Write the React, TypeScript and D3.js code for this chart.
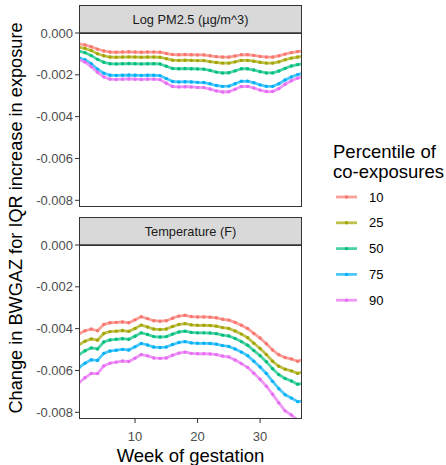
import React from "react";
import * as d3 from "d3";

const weeks = [1, 2, 3, 4, 5, 6, 7, 8, 9, 10, 11, 12, 13, 14, 15, 16, 17, 18, 19, 20, 21, 22, 23, 24, 25, 26, 27, 28, 29, 30, 31, 32, 33, 34, 35, 36, 37];
const percentiles = ["10", "25", "50", "75", "90"];
const colors = ["#F8766D", "#A3A500", "#00BF7D", "#00B0F6", "#E76BF3"];
const yTicks = [0, -0.002, -0.004, -0.006, -0.008];
const xTicks = [10, 20, 30];
const panelTitles = ["Log PM2.5 (\u00b5g/m^3)", "Temperature (F)"];

// Log PM2.5 panel, one array per percentile
const pm10 = [-0.00052, -0.00057, -0.00066, -0.00077, -0.00086, -0.00091, -0.00092, -0.00091, -0.0009, -0.00091, -0.00092, -0.00091, -0.00091, -0.00092, -0.00098, -0.00103, -0.00104, -0.00103, -0.00104, -0.00105, -0.00105, -0.00109, -0.00113, -0.00115, -0.00115, -0.0011, -0.00104, -0.00104, -0.00107, -0.00112, -0.00115, -0.00115, -0.00109, -0.00101, -0.00094, -0.00089, -0.00085];
const pm25 = [-0.00068, -0.00074, -0.00084, -0.00099, -0.00109, -0.00115, -0.00116, -0.00115, -0.00114, -0.00115, -0.00116, -0.00115, -0.00115, -0.00116, -0.00123, -0.0013, -0.00131, -0.0013, -0.00131, -0.00132, -0.00132, -0.00137, -0.00141, -0.00144, -0.00144, -0.00138, -0.00131, -0.00131, -0.00135, -0.0014, -0.00144, -0.00144, -0.00138, -0.00128, -0.0012, -0.00115, -0.0011];
const pm50 = [-0.00087, -0.00094, -0.00108, -0.00126, -0.0014, -0.00147, -0.00148, -0.00147, -0.00146, -0.00147, -0.00148, -0.00147, -0.00147, -0.00148, -0.00159, -0.0017, -0.00171, -0.0017, -0.00171, -0.00172, -0.00173, -0.00179, -0.00187, -0.00191, -0.0019, -0.00181, -0.00171, -0.00171, -0.00177, -0.00185, -0.00191, -0.00191, -0.00182, -0.00169, -0.00158, -0.00151, -0.00145];
const pm75 = [-0.00118, -0.00128, -0.00147, -0.00173, -0.00192, -0.00202, -0.00203, -0.00202, -0.00201, -0.00202, -0.00203, -0.00202, -0.00202, -0.00204, -0.00218, -0.00232, -0.00234, -0.00233, -0.00234, -0.00236, -0.00237, -0.00243, -0.00251, -0.00255, -0.00254, -0.00243, -0.00231, -0.0023, -0.00238, -0.00248, -0.00255, -0.00255, -0.00243, -0.00225, -0.0021, -0.00199, -0.00191];
const pm90 = [-0.00128, -0.00139, -0.00161, -0.00188, -0.0021, -0.00221, -0.00222, -0.00221, -0.0022, -0.00221, -0.00222, -0.00221, -0.00221, -0.00223, -0.0024, -0.00256, -0.00258, -0.00257, -0.00258, -0.0026, -0.00261, -0.00268, -0.00277, -0.00282, -0.00281, -0.00269, -0.00256, -0.00255, -0.00263, -0.00273, -0.0028, -0.0028, -0.00266, -0.00245, -0.00228, -0.00216, -0.00207];

// Temperature panel
const tp10 = [-0.00425, -0.0041, -0.00402, -0.0041, -0.0038, -0.00372, -0.0037, -0.00368, -0.00372, -0.00358, -0.00343, -0.00352, -0.00362, -0.00364, -0.00362, -0.0035, -0.0034, -0.00336, -0.00342, -0.00344, -0.00344, -0.00345, -0.00348, -0.00355, -0.00359, -0.0037, -0.00384, -0.00399, -0.00423, -0.00445, -0.00472, -0.00502, -0.00525, -0.00538, -0.00545, -0.00556, -0.00545];
const tp25 = [-0.00477, -0.0046, -0.00449, -0.00455, -0.00423, -0.00414, -0.00412, -0.00409, -0.00413, -0.00399, -0.00383, -0.00392, -0.00402, -0.00404, -0.00402, -0.0039, -0.0038, -0.00376, -0.00382, -0.00384, -0.00384, -0.00385, -0.00388, -0.00395, -0.00399, -0.00411, -0.00426, -0.00443, -0.0047, -0.00495, -0.00524, -0.00556, -0.0058, -0.00594, -0.00602, -0.00614, -0.00605];
const tp50 = [-0.00525, -0.00506, -0.00492, -0.00497, -0.00464, -0.00454, -0.00451, -0.00448, -0.00451, -0.00436, -0.0042, -0.00428, -0.00438, -0.0044, -0.00438, -0.00426, -0.00416, -0.00412, -0.00418, -0.0042, -0.0042, -0.00421, -0.00424, -0.00431, -0.00435, -0.00447, -0.00462, -0.00479, -0.00505, -0.00529, -0.00558, -0.00592, -0.0062, -0.00638, -0.0065, -0.00666, -0.0066];
const tp75 = [-0.00587, -0.00565, -0.00549, -0.00552, -0.00518, -0.00507, -0.00503, -0.00499, -0.00502, -0.00487, -0.00471, -0.00478, -0.00488, -0.0049, -0.00488, -0.00476, -0.00466, -0.00462, -0.00468, -0.0047, -0.0047, -0.00471, -0.00474, -0.00481, -0.00485, -0.00497, -0.00512, -0.00529, -0.00556, -0.00583, -0.00614, -0.00652, -0.00687, -0.00716, -0.00732, -0.00749, -0.00745];
const tp90 = [-0.0066, -0.00635, -0.00614, -0.00615, -0.00578, -0.00565, -0.0056, -0.00555, -0.00557, -0.00541, -0.00524, -0.0053, -0.0054, -0.00542, -0.0054, -0.00527, -0.00517, -0.00512, -0.00518, -0.0052, -0.0052, -0.00521, -0.00524, -0.00531, -0.00535, -0.0055, -0.00567, -0.00585, -0.00613, -0.00642, -0.00675, -0.00714, -0.00755, -0.00793, -0.00813, -0.00836, -0.00835];

const panels = [
  { title: panelTitles[0], series: [pm10, pm25, pm50, pm75, pm90], top: 33 },
  { title: panelTitles[1], series: [tp10, tp25, tp50, tp75, tp90], top: 245 },
];

const font = "'Liberation Sans', Arial, Helvetica, sans-serif";
const left = 79;
const right = 302;
const panelH = 174;
const stripH = 28;

const x = d3.scaleLinear().domain([1.04, 36.7]).range([left, right]);

const App = () => {
  return (
    <div style={{ position: "absolute", left: 0, top: 0 }}>
      <svg width={446} height={465} style={{ display: "block", fontFamily: font }}>
        <rect width={446} height={465} fill="#fff" />
        <defs>
          {panels.map((p, i) => (
            <clipPath id={`clip${i}`} key={i}>
              <rect x={left} y={p.top} width={right - left} height={panelH} />
            </clipPath>
          ))}
        </defs>
        {panels.map((p, i) => {
          const y = d3.scaleLinear().domain([0, -0.00832]).range([p.top, p.top + panelH]);
          const line = d3
            .line<number>()
            .x((d, j) => x(weeks[j]))
            .y((d) => y(d));
          return (
            <g key={i}>
              {/* strip */}
              <rect x={left + 0.5} y={p.top - stripH + 0.5} width={right - left - 1} height={stripH} fill="#D9D9D9" stroke="#333" strokeWidth={1} />
              <text x={(left + right) / 2} y={p.top - stripH / 2} textAnchor="middle" dominantBaseline="central" fontSize={12.8} fill="#1A1A1A">
                {p.title}
              </text>
              {/* series */}
              <g clipPath={`url(#clip${i})`}>
                {p.series.map((s, k) => (
                  <g key={k}>
                    <path d={line(s) || ""} fill="none" stroke={colors[k]} strokeWidth={2.8} strokeOpacity={0.7} strokeLinejoin="round" />
                    {s.map((v, j) => (
                      <circle key={j} cx={x(weeks[j])} cy={y(v)} r={1.7} fill={colors[k]} />
                    ))}
                  </g>
                ))}
              </g>
              {/* zero line */}
              <line x1={left} x2={right} y1={y(0)} y2={y(0)} stroke="#333" strokeWidth={1.3} />
              {/* panel border */}
              <rect x={left + 0.5} y={p.top + 0.5} width={right - left - 1} height={panelH - 1} fill="none" stroke="#333" strokeWidth={1} />
              {/* y axis */}
              {yTicks.map((t) => (
                <g key={t}>
                  <line x1={left - 4} x2={left} y1={y(t)} y2={y(t)} stroke="#333" />
                  <text x={left - 6} y={y(t)} textAnchor="end" dominantBaseline="central" fontSize={13} fill="#4D4D4D">
                    {d3.format(".3f")(t).replace("\u2212", "-")}
                  </text>
                </g>
              ))}
            </g>
          );
        })}
        {/* x axis */}
        {xTicks.map((t) => (
          <g key={t}>
            <line x1={x(t)} x2={x(t)} y1={419} y2={423} stroke="#333" />
            <text x={x(t)} y={436} textAnchor="middle" dominantBaseline="central" fontSize={13} fill="#4D4D4D">
              {t}
            </text>
          </g>
        ))}
        <text x={(left + right) / 2} y={455} textAnchor="middle" dominantBaseline="central" fontSize={18.5} fill="#000">
          Week of gestation
        </text>
        <text transform={`translate(16,218) rotate(-90)`} textAnchor="middle" dominantBaseline="central" fontSize={18.2} fill="#000">
          Change in BWGAZ for IQR increase in exposure
        </text>
        {/* legend */}
        <text x={333} y={158} fontSize={18.5} fill="#000">Percentile of</text>
        <text x={333} y={178} fontSize={18.5} fill="#000">co-exposures</text>
        {percentiles.map((p, k) => {
          const ly = 197 + k * 25.8;
          return (
            <g key={p}>
              <line x1={336} x2={357} y1={ly} y2={ly} stroke={colors[k]} strokeWidth={2.8} strokeOpacity={0.7} />
              <circle cx={346.5} cy={ly} r={1.7} fill={colors[k]} />
              <text x={369} y={ly} dominantBaseline="central" fontSize={13} fill="#000">
                {p}
              </text>
            </g>
          );
        })}
      </svg>
    </div>
  );
};

export default App;
